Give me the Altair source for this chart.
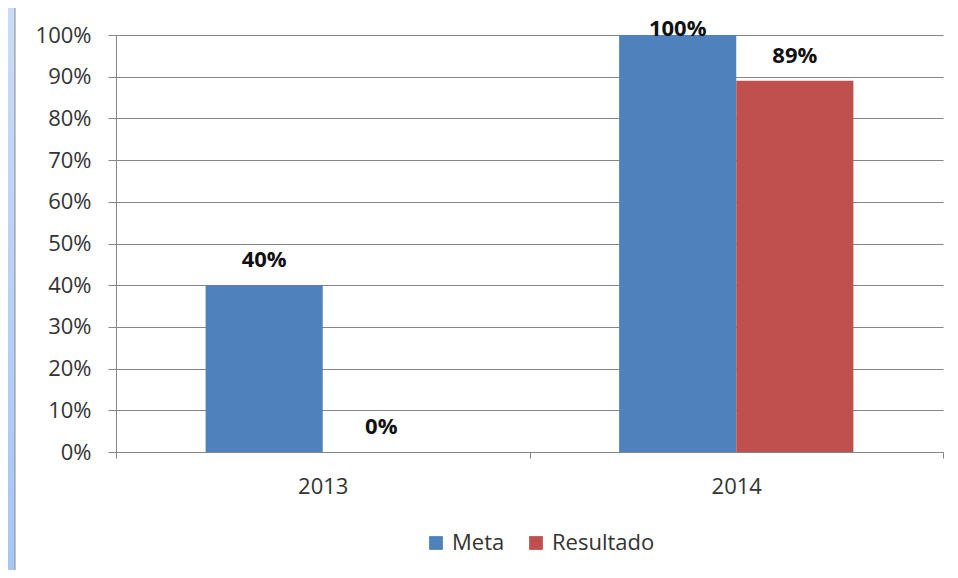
import altair as alt
import pandas as pd

years = ["2013", "2013", "2014", "2014"]
series = ["Meta", "Resultado", "Meta", "Resultado"]
values = [0.40, 0.00, 1.00, 0.89]
labels = ["40%", "0%", "100%", "89%"]

df = pd.DataFrame({"year": years, "series": series, "value": values, "label": labels})

FONT = "Open Sans"
SORT = ["Meta", "Resultado"]

xenc = alt.X("year:N", title=None,
             scale=alt.Scale(paddingInner=0, paddingOuter=0),
             axis=alt.Axis(labelAngle=0, labelFontSize=22, labelColor="#333333",
                           labelFont=FONT, labelPadding=18, tickBand="extent",
                           tickSize=6, tickColor="#868686", domainColor="#868686",
                           grid=False))
xoff = alt.XOffset("series:N", sort=SORT,
                   scale=alt.Scale(paddingInner=0, paddingOuter=0.765))
yenc = alt.Y("value:Q", title=None,
             scale=alt.Scale(domain=[0, 1], nice=False),
             axis=alt.Axis(format=".0%", values=[i / 10 for i in range(11)],
                           labelFontSize=22, labelColor="#333333", labelFont=FONT,
                           tickSize=8, tickColor="#868686", domainColor="#868686",
                           gridColor="#868686", grid=True, labelPadding=17))

color = alt.Color("series:N", title=None, sort=SORT,
                  scale=alt.Scale(domain=SORT, range=["#4f81bd", "#c0504d"]),
                  legend=alt.Legend(orient="none", legendX=309, legendY=497,
                                    direction="horizontal", symbolType="square",
                                    symbolSize=190, symbolStrokeWidth=0,
                                    labelFontSize=22, labelFont=FONT, labelColor="#333333",
                                    columnPadding=20, labelOffset=5))

bars = alt.Chart(df).mark_bar().encode(x=xenc, xOffset=xoff, y=yenc, color=color)

text = alt.Chart(df).transform_calculate(
    label_y="min(datum.value, 0.954)"
).mark_text(baseline="alphabetic", dy=-18, fontSize=22, fontWeight="bold",
            font=FONT, color="#111111").encode(
    x="year:N", xOffset=xoff, y="label_y:Q", text="label:N"
)

strip = alt.Chart(pd.DataFrame({"k": [0]})).mark_rect(
    fill=alt.Gradient(gradient="linear", x1=0, y1=0, x2=0, y2=1,
                      stops=[alt.GradientStop(color="#cadcf7", offset=0),
                             alt.GradientStop(color="#a6c6f6", offset=1)]),
    stroke="#8a8a8a", strokeWidth=1
).encode(x=alt.value(-110), x2=alt.value(-101), y=alt.value(-30), y2=alt.value(540))

chart = alt.layer(strip, bars, text).properties(
    width=827, height=417,
    padding={"left": 108, "top": 27, "right": 7, "bottom": 118},
    autosize=alt.AutoSizeParams(type="none"),
    background="white"
).configure_view(stroke=None)

chart.save("out.html", embed_options={"renderer": "svg", "actions": False})
